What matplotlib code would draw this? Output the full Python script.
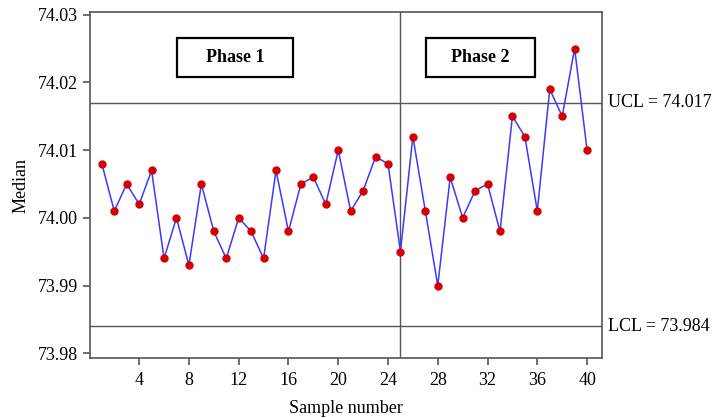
import matplotlib
matplotlib.use("Agg")
import matplotlib.pyplot as plt
from matplotlib.patches import Rectangle

samples = list(range(1, 41))
medians = [74.008, 74.001, 74.005, 74.002, 74.007, 73.994, 74.000, 73.993, 74.005, 73.998,
           73.994, 74.000, 73.998, 73.994, 74.007, 73.998, 74.005, 74.006, 74.002, 74.010,
           74.001, 74.004, 74.009, 74.008, 73.995, 74.012, 74.001, 73.990, 74.006, 74.000,
           74.004, 74.005, 73.998, 74.015, 74.012, 74.001, 74.019, 74.015, 74.025, 74.010]
ucl = 74.017
lcl = 73.984
phase_split = 25
phase_labels = ['Phase 1', 'Phase 2']
xticks = [4, 8, 12, 16, 20, 24, 28, 32, 36, 40]
yticks = [73.98, 73.99, 74.00, 74.01, 74.02, 74.03]

plt.rcParams['font.family'] = ['Liberation Serif', 'DejaVu Serif']

fig = plt.figure(figsize=(7.16, 4.18), dpi=100)
ax = fig.add_axes([0.1257, 0.1435, 0.7151, 0.8278])

ax.axhline(ucl, color='#555555', lw=1.0, zorder=1)
ax.axhline(lcl, color='#555555', lw=1.0, zorder=1)
ax.axvline(phase_split, color='#555555', lw=1.0, zorder=1)

ax.plot(samples, medians, color='#3a3aff', lw=1.1, zorder=2)
ax.plot(samples, medians, 'o', color='#d40000', ms=5, mec='#d40000', zorder=3)

ax.set_xlim(0.05, 41.2)
ax.set_ylim(73.9793, 74.0304)
ax.set_xticks(xticks)
ax.set_yticks(yticks)
ax.set_yticklabels([f"{v:.2f}" for v in yticks])
ax.tick_params(labelsize=13, direction='out', length=5, color='#555555', width=1.2)
ax.tick_params(axis='x', pad=5)
for s in ['left', 'bottom', 'top', 'right']:
    ax.spines[s].set_color('#555555')
    ax.spines[s].set_linewidth(1.2)

ax.set_xlabel('Sample number', fontsize=13, labelpad=8)
ax.set_ylabel('Median', fontsize=13, labelpad=6)

ax.text(41.7, ucl, 'UCL = 74.017', fontsize=13, va='center', ha='left', clip_on=False)
ax.text(41.7, lcl, 'LCL = 73.984', fontsize=13, va='center', ha='left', clip_on=False)

boxes = [(0.170, 0.2266), (0.656, 0.213)]
for (x0, w), label in zip(boxes, phase_labels):
    ax.add_patch(Rectangle((x0, 0.8121), w, 0.1128, transform=ax.transAxes,
                           fc='white', ec='black', lw=1.6, zorder=4))
    ax.text(x0 + w / 2, 0.8685, label, transform=ax.transAxes, fontsize=13,
            fontweight='bold', ha='center', va='center', zorder=5)

fig.savefig('out.png', dpi=100)
